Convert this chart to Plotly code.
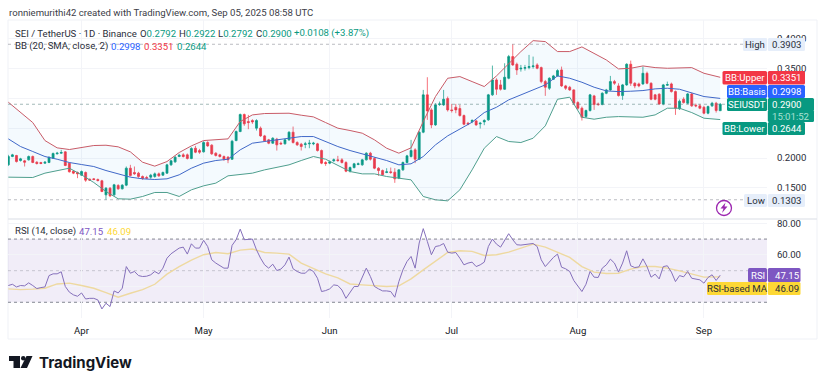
import pandas as pd
import plotly.graph_objects as go

W, H = 825, 385
GREEN, RED, BLUE, PURPLE, YELLOW = "#089981", "#f23645", "#2962ff", "#7e57c2", "#fdd835"
FONT = "Roboto"
FS = 9.6

first_day = "2025-03-14"
last_day = "2025-09-05"
month_ticks = ["2025-04-01", "2025-05-01", "2025-06-01", "2025-07-01", "2025-08-01", "2025-09-01"]
month_labels = ["Apr", "May", "Jun", "Jul", "Aug", "Sep"]
price_ticks = [0.15, 0.20, 0.25, 0.30, 0.35, 0.40]
price_labels = ["0.1500", "0.2000", "", "", "0.3500", "0.4000"]
rsi_ticks = [40, 60, 80]
rsi_labels = ["", "60.00", "80.00"]

opens = [.1887,.2026,.2043,.1959,.1954,.1970,.2026,.1931,.1926,.1915,.1926,.1998,.2071,.2082,.2104,.1915,.1781,.1759,.1714,.1759,
 .1647,.1653,.1642,.1620,.1385,.1497,.1385,.1542,.1486,.1547,.1831,.1759,.1748,.1692,.1675,.1681,.1692,.1736,.1714,.1748,
 .1887,.1937,.2026,.2054,.2054,.1993,.2165,.2126,.2104,.2260,.2216,.2082,.2054,.2026,.2015,.1981,.2293,.2444,.2728,.2611,
 .2628,.2500,.2500,.2371,.2305,.2249,.2316,.2249,.2238,.2305,.2433,.2260,.2232,.2227,.2238,.2238,.2238,.2126,.1926,.1915,
 .1954,.1970,.1970,.1926,.1781,.1842,.1893,.1887,.1970,.2082,.1993,.1831,.1792,.1759,.1770,.1764,.1664,.1803,.1926,.2026,
 .2138,.1981,.2433,.3057,.2806,.2555,.2895,.2889,.2995,.2806,.2850,.2828,.2711,.2583,.2611,.2622,.2572,.2605,.2639,.3057,
 .3307,.3224,.3151,.3335,.3697,.3569,.3491,.3502,.3513,.3530,.3558,.3513,.3279,.3168,.3318,.3374,.3474,.3207,.3185,.3140,
 .2928,.2834,.2694,.2795,.3040,.2906,.2895,.3084,.3140,.3279,.3207,.3045,.3224,.3569,.3251,.3240,.3240,.3418,.3251,.3057,
 .3068,.2906,.3218,.3240,.3112,.2823,.2984,.2917,.3073,.2884,.2873,.2850,.2750,.2873,.2917,.2792]
highs = [.2054,.2071,.2054,.2004,.1970,.2043,.2043,.1948,.1937,.1948,.2026,.2093,.2104,.2138,.2115,.1926,.1798,.1775,.1792,.1775,
 .1658,.1664,.1658,.1636,.1514,.1514,.1569,.1564,.1564,.1859,.1887,.1859,.1770,.1709,.1703,.1736,.1759,.1759,.1775,.1904,
 .1970,.2037,.2071,.2082,.2076,.2182,.2204,.2154,.2282,.2282,.2232,.2098,.2071,.2043,.2032,.2304,.2461,.2745,.2745,.2722,
 .2650,.2650,.2528,.2388,.2321,.2349,.2338,.2277,.2321,.2449,.2527,.2282,.2254,.2271,.2304,.2271,.2254,.2143,.1948,.1959,
 .1993,.2037,.1998,.1948,.1859,.1920,.1926,.1987,.2098,.2104,.2015,.1848,.1809,.1831,.1842,.1831,.1814,.1943,.2054,.2304,
 .2165,.2449,.3140,.3352,.2834,.2917,.2945,.3140,.3029,.2906,.2906,.2889,.2728,.2605,.2650,.2639,.2605,.2650,.3073,.3547,
 .3335,.3307,.3586,.3725,.3903,.3597,.3558,.3558,.3725,.3697,.3586,.3530,.3307,.3352,.3391,.3485,.3530,.3224,.3207,.3151,
 .2951,.2862,.2811,.3073,.3057,.2928,.3101,.3157,.3374,.3307,.3251,.3240,.3586,.3630,.3268,.3262,.3530,.3446,.3268,.3073,
 .3084,.3240,.3279,.3262,.3129,.2979,.3017,.3090,.3090,.2912,.2906,.2873,.2878,.2940,.2940,.2922]
lows = [.1870,.2015,.1926,.1942,.1859,.1959,.1915,.1892,.1898,.1904,.1915,.1987,.2060,.2071,.1865,.1759,.1731,.1664,.1703,.1603,
 .1620,.1631,.1608,.1430,.1303,.1347,.1369,.1469,.1475,.1530,.1692,.1720,.1670,.1636,.1653,.1653,.1670,.1686,.1703,.1736,
 .1870,.1920,.2015,.2009,.1976,.1981,.2082,.2071,.2093,.2188,.2054,.2026,.2009,.1954,.1915,.1970,.2282,.2433,.2539,.2483,
 .2572,.2461,.2355,.2271,.2232,.2238,.2126,.2221,.2227,.2288,.2243,.2204,.2126,.2165,.2165,.2216,.2110,.1898,.1870,.1898,
 .1937,.1937,.1909,.1764,.1759,.1826,.1881,.1870,.1959,.1959,.1814,.1703,.1703,.1748,.1736,.1586,.1647,.1786,.1915,.2009,
 .1915,.1970,.2416,.2639,.2500,.2539,.2873,.2873,.2778,.2761,.2750,.2695,.2550,.2550,.2583,.2539,.2494,.2550,.2622,.3040,
 .3057,.3129,.3140,.3318,.3541,.3391,.3446,.3463,.3485,.3496,.3485,.3251,.3040,.3140,.3307,.3363,.3190,.3140,.3123,.2889,
 .2806,.2628,.2672,.2778,.2806,.2873,.2884,.3068,.3123,.3224,.3029,.2973,.3207,.3207,.3168,.3185,.3224,.3235,.2967,.2967,
 .2889,.2884,.3207,.3096,.2722,.2806,.2912,.2900,.2856,.2851,.2817,.2733,.2733,.2856,.2761,.2792]
closes = [.2026,.2054,.1942,.1987,.1931,.2026,.1926,.1909,.1909,.1931,.2015,.2076,.2082,.2093,.1876,.1770,.1748,.1736,.1775,.1631,
 .1631,.1642,.1625,.1441,.1497,.1369,.1553,.1486,.1547,.1831,.1709,.1736,.1692,.1659,.1664,.1714,.1736,.1703,.1759,.1887,
 .1954,.2015,.2048,.2026,.1993,.2160,.2098,.2098,.2260,.2204,.2071,.2043,.2026,.1981,.1970,.2282,.2444,.2728,.2572,.2594,
 .2605,.2628,.2371,.2288,.2249,.2332,.2221,.2238,.2305,.2433,.2260,.2221,.2193,.2238,.2249,.2249,.2126,.1915,.1909,.1937,
 .1970,.1959,.1926,.1781,.1842,.1904,.1904,.1970,.2082,.1981,.1831,.1792,.1720,.1770,.1759,.1653,.1803,.1926,.2037,.2126,
 .1981,.2433,.3057,.2789,.2555,.2889,.2906,.2984,.2806,.2795,.2806,.2711,.2566,.2566,.2628,.2555,.2583,.2628,.3057,.3307,
 .3151,.3151,.3352,.3697,.3558,.3474,.3502,.3513,.3530,.3541,.3502,.3279,.3185,.3335,.3374,.3463,.3207,.3168,.3140,.2917,
 .2834,.2683,.2795,.3057,.2895,.2895,.3084,.3140,.3279,.3251,.3045,.3224,.3569,.3251,.3207,.3207,.3418,.3251,.2984,.2984,
 .2906,.3224,.3229,.3112,.2834,.2951,.2928,.3073,.2873,.2873,.2834,.2750,.2862,.2917,.2795,.2900]

bb_upper = [.2934,.2761,.2594,.2293,.2171,.2143,.2182,.2210,.2215,.2188,.2104,.1931,.1865,.1942,.2093,.2204,.2293,.2310,.2321,.2611,.2722,.2745,
 .2750,.2750,.2717,.2689,.2594,.2500,.2461,.2416,.2305,.2165,.2082,.2171,.2611,.3029,.3335,.3363,.3279,.3196,.3374,.3586,.3781,.3964,
 .3948,.3781,.3781,.3859,.3753,.3641,.3491,.3502,.3541,.3513,.3502,.3502,.3513,.3418,.3351]
bb_basis = [.2321,.2193,.2110,.2026,.1981,.1926,.1892,.1859,.1792,.1736,.1681,.1653,.1642,.1653,.1720,.1831,.1915,.1959,.1981,.2138,.2249,.2277,
 .2305,.2344,.2360,.2360,.2277,.2193,.2126,.2071,.2026,.1959,.1887,.1904,.2026,.2221,.2371,.2483,.2600,.2761,.2850,.2973,.3057,.3140,
 .3224,.3374,.3335,.3268,.3185,.3123,.3112,.3118,.3129,.3157,.3168,.3151,.3084,.3029,.2998]
bb_lower = [.1681,.1675,.1675,.1748,.1792,.1831,.1720,.1592,.1441,.1319,.1313,.1358,.1425,.1425,.1358,.1469,.1536,.1581,.1703,.1720,.1748,.1803,
 .1842,.1887,.1959,.2026,.1981,.1876,.1775,.1736,.1736,.1692,.1664,.1636,.1358,.1302,.1285,.1469,.1803,.2165,.2360,.2277,.2260,.2332,
 .2539,.2984,.3018,.2683,.2650,.2683,.2694,.2683,.2683,.2722,.2834,.2834,.2761,.2667,.2644]

rsi = [40.6,41.4,39.7,40.6,40.4,42.3,40.6,38.7,39.3,39.7,46.9,48.0,48.0,49.3,40.0,36.4,34.7,33.8,35.9,32.1,32.5,32.5,31.5,25.8,29.4,27.3,37.2,35.9,38.9,52.6,
 48.4,49.5,46.9,46.3,46.5,47.4,49.5,48.0,51.6,57.9,60.7,62.8,64.3,64.9,60.5,67.0,64.3,64.3,69.2,65.3,56.9,54.8,53.3,51.6,51.6,66.0,69.6,76.3,69.6,69.6,70.0,63.2,57.9,53.7,51.6,54.1,
 50.1,51.0,53.7,58.6,51.2,49.5,48.4,48.4,51.0,49.5,45.2,36.8,37.4,38.5,41.0,40.6,37.8,32.5,36.4,40.0,40.0,46.3,51.6,46.3,40.0,38.5,37.2,37.2,36.8,33.2,43.1,50.5,55.8,59.0,51.6,67.5,76.6,
 68.5,60.1,65.3,65.8,67.2,61.7,61.1,61.5,57.9,53.7,54.8,55.4,52.6,53.7,55.4,65.3,70.0,66.8,64.9,68.9,73.4,69.6,66.4,66.2,66.6,66.8,67.2,65.3,56.9,52.6,
 55.8,58.4,60.5,52.2,51.2,49.5,43.8,40.6,36.8,41.4,49.5,45.9,45.7,51.6,53.7,57.3,54.8,49.1,54.8,62.6,53.1,52.0,52.4,57.5,52.6,45.9,47.8,44.8,52.6,53.1,49.1,43.1,46.9,46.1,49.5,45.2,44.8,44.2,42.1,45.7,47.4,43.8,47.15]
rsi_ma = [38.5,38.0,38.3,38.9,41.6,42.1,40.6,38.9,36.1,33.2,35.7,38.0,41.4,47.8,52.6,56.7,60.1,61.5,60.7,63.0,63.7,61.5,
 61.1,60.5,54.8,51.2,48.0,45.5,41.6,41.0,40.6,40.0,40.4,44.8,50.5,55.8,61.5,62.6,62.2,59.6,60.1,61.7,64.3,66.8,
 64.9,61.7,58.4,52.6,49.1,48.2,48.4,51.0,52.6,52.6,51.6,49.9,48.0,45.9,46.09]

days = pd.date_range(first_day, last_day, freq="D")
grid = list(days[::3][:58]) + [days[-1]]


def fx(x):
    return x / W


def fy(y):
    return 1 - y / H


fig = go.Figure()
fig.add_trace(go.Scatter(x=grid, y=bb_upper, mode="lines", line=dict(color="#c95c68", width=1), hoverinfo="skip"))
fig.add_trace(go.Scatter(x=grid, y=bb_lower, mode="lines", line=dict(color="#4f9f8e", width=1), fill="tonexty",
                         fillcolor="rgba(33,150,243,0.05)", hoverinfo="skip"))
fig.add_trace(go.Scatter(x=grid, y=bb_basis, mode="lines", line=dict(color="#4068c8", width=1), hoverinfo="skip"))
fig.add_trace(go.Candlestick(x=days, open=opens, high=highs, low=lows, close=closes,
                             increasing=dict(line=dict(color="rgba(8,153,129,0.7)", width=1), fillcolor=GREEN),
                             decreasing=dict(line=dict(color="rgba(242,54,69,0.7)", width=1), fillcolor=RED),
                             whiskerwidth=0, hoverinfo="skip"))
fig.add_trace(go.Scatter(x=grid, y=rsi_ma, mode="lines", line=dict(color="#eed9a0", width=1.4), xaxis="x2", yaxis="y2", hoverinfo="skip"))
fig.add_trace(go.Scatter(x=days, y=rsi, mode="lines", line=dict(color="#8570bb", width=1), xaxis="x2", yaxis="y2", hoverinfo="skip"))

shapes = []
annotations = []


def txt(x, y, s, color="#2a2e39", size=FS, anchor="left", **kw):
    annotations.append(dict(xref="paper", yref="paper", x=fx(x), y=fy(y), text=s, showarrow=False, xanchor=anchor, yanchor="middle",
                            font=dict(family=kw.get("family", FONT), size=size, color=color), align=anchor, borderpad=0))


def rbox(x0, y0, x1, y1, fill, r=1.5):
    path = (f"M{fx(x0 + r)},{fy(y0)} L{fx(x1 - r)},{fy(y0)} Q{fx(x1)},{fy(y0)} {fx(x1)},{fy(y0 + r)} "
            f"L{fx(x1)},{fy(y1 - r)} Q{fx(x1)},{fy(y1)} {fx(x1 - r)},{fy(y1)} "
            f"L{fx(x0 + r)},{fy(y1)} Q{fx(x0)},{fy(y1)} {fx(x0)},{fy(y1 - r)} "
            f"L{fx(x0)},{fy(y0 + r)} Q{fx(x0)},{fy(y0)} {fx(x0 + r)},{fy(y0)} Z")
    shapes.append(dict(type="path", xref="paper", yref="paper", path=path, fillcolor=fill, line=dict(width=0), layer="above"))


def tag(left, y0, y1, name, value, fill, fg="#ffffff", right=805):
    rbox(left, y0, 767, y1, fill)
    rbox(767.8, y0, right, y1, fill)
    txt((left + 767) / 2, (y0 + y1) / 2, name, fg, FS, "center")
    txt(787, (y0 + y1) / 2, value, fg, FS, "center")


# Panel frame and pane separator
for x0, y0, x1, y1 in [(8, 20, 817, 20), (8, 339, 817, 339), (8, 20, 8, 339), (817, 20, 817, 339)]:
    shapes.append(dict(type="line", xref="paper", yref="paper", x0=fx(x0), y0=fy(y0), x1=fx(x1), y1=fy(y1),
                       line=dict(color="#eff1f6", width=1), layer="below"))
shapes.append(dict(type="line", xref="paper", yref="paper", x0=fx(8), x1=fx(817), y0=fy(219), y1=fy(219),
                   line=dict(color="#e6e8ee", width=1.5), layer="below"))

# Reference lines
for val, col in [(0.3903, "rgba(120,123,134,0.5)"), (0.1303, "rgba(120,123,134,0.5)"), (0.29, "rgba(90,130,125,0.55)")]:
    shapes.append(dict(type="line", xref="x domain", yref="y", x0=0, x1=1, y0=val, y1=val, line=dict(color=col, width=1, dash="dot"), layer="above"))
shapes.append(dict(type="rect", xref="x2 domain", yref="y2", x0=0, x1=1, y0=30, y1=70, fillcolor="rgba(126,87,194,0.11)", line=dict(width=0), layer="below"))
for val, col in [(70, "rgba(120,123,134,0.9)"), (50, "rgba(120,123,134,0.35)"), (30, "rgba(120,123,134,0.9)")]:
    shapes.append(dict(type="line", xref="x2 domain", yref="y2", x0=0, x1=1, y0=val, y1=val, line=dict(color=col, width=1, dash="3px,3px"), layer="below"))

# Right-hand tags
tag(743, 38, 51, "High", "0.3903", "#e6eefa", "#2a2e39")
tag(744, 194, 207, "Low", "0.1303", "#e6eefa", "#2a2e39")
tag(722.5, 71, 84.5, "BB:Upper", "0.3351", RED)
tag(727, 85, 98, "BB:Basis", "0.2998", BLUE)
tag(727, 98, 111, "SEIUSDT", "0.2900", GREEN, right=814)
rbox(767.8, 110, 814, 122, GREEN)
txt(790.5, 116, "15:01:52", "#a8e0d2", FS, "center")
tag(722.5, 122, 135, "BB:Lower", "0.2644", GREEN)
tag(748, 268, 282, "RSI", "47.15", PURPLE, right=800.5)
tag(707, 282, 295, "RSI-based MA", "46.09", "#fdd835", "#2a2e39", right=800.5)

# Lightning badge
shapes.append(dict(type="circle", xref="paper", yref="paper", x0=fx(716.5), x1=fx(731.5), y0=fy(215.5), y1=fy(200.5),
                   line=dict(color="#9c27b0", width=1.3), fillcolor="#ffffff", layer="above"))
bolt = [(725.5, 202.5), (720.5, 208.5), (723.5, 208.5), (722, 213), (727.5, 206.5), (724.5, 206.5)]
shapes.append(dict(type="path", xref="paper", yref="paper",
                   path="M" + " L".join(f"{fx(a)},{fy(b)}" for a, b in bolt) + " Z",
                   fillcolor="#9c27b0", line=dict(width=0), layer="above"))

# Logo
logo_parts = [[(9, 356), (20, 356), (20, 368), (13.5, 368), (13.5, 361), (9, 361)],
              [(26.5, 356), (32.5, 356), (27, 368), (20.5, 368)]]
for part in logo_parts:
    shapes.append(dict(type="path", xref="paper", yref="paper",
                       path="M" + " L".join(f"{fx(a)},{fy(b)}" for a, b in part) + " Z",
                       fillcolor="#131722", line=dict(width=0), layer="above"))
shapes.append(dict(type="circle", xref="paper", yref="paper", x0=fx(21), x1=fx(25.5), y0=fy(360.5), y1=fy(356),
                   fillcolor="#131722", line=dict(width=0), layer="above"))
txt(38, 362, "<b>TradingView</b>", "#131722", 15, family="Inter")

# Text rows
txt(8, 12, "ronniemurithi42 created with TradingView.com, Sep 05, 2025 08:58 UTC", "#3c4048", FS)
txt(14, 33, "SEI / TetherUS · 1D · Binance", "#2a2e39")
for x, lab, val in [(139, "O", "0.2792"), (178, "H", "0.2922"), (217, "L", "0.2792"), (255, "C", "0.2900")]:
    txt(x, 33, f'{lab}<span style="color:{GREEN}">{val}</span>', "#2a2e39")
txt(293, 33, "+0.0108 (+3.87%)", GREEN)
txt(14, 46, "BB (20, SMA, close, 2)", "#2a2e39")
txt(110, 46, "0.2998", BLUE)
txt(143, 46, "0.3351", RED)
txt(176, 46, "0.2644", GREEN)
txt(14, 231, "RSI (14, close)", "#2a2e39")
txt(78, 231, "47.15", PURPLE)
txt(106, 231, "46.09", YELLOW)

x_left, x_right = "2025-03-13 22:00", "2025-09-16 12:00"
fig.update_layout(
    width=W, height=H, autosize=False, margin=dict(l=0, r=0, t=0, b=0, pad=0, autoexpand=False), showlegend=False,
    paper_bgcolor="#ffffff", plot_bgcolor="#ffffff", font=dict(family=FONT, size=FS, color="#2a2e39"),
    shapes=shapes, annotations=annotations,
    xaxis=dict(domain=[fx(8), fx(767)], range=[x_left, x_right], rangeslider=dict(visible=False), type="date",
               tickvals=month_ticks, ticktext=month_labels, showticklabels=False, ticks="", showgrid=True, gridcolor="#f3f4f8", gridwidth=1, zeroline=False, showline=False, anchor="y"),
    yaxis=dict(domain=[fy(218), fy(20)], range=[0.0998, 0.4309], side="right", tickvals=price_ticks, ticktext=price_labels,
               ticks="outside", ticklen=7, tickcolor="rgba(0,0,0,0)", showgrid=True, gridcolor="#f3f4f8", zeroline=False, showline=False, anchor="x",
               tickfont=dict(family=FONT, size=FS, color="#2a2e39")),
    xaxis2=dict(domain=[fx(8), fx(767)], range=[x_left, x_right], type="date", tickvals=month_ticks, ticktext=month_labels,
                ticks="outside", ticklen=3, tickcolor="rgba(0,0,0,0)", showgrid=True, gridcolor="#f3f4f8", zeroline=False, showline=False, anchor="y2",
                tickfont=dict(family=FONT, size=FS, color="#131722")),
    yaxis2=dict(domain=[fy(318), fy(222)], range=[20.06, 80.8], side="right", tickvals=rsi_ticks, ticktext=rsi_labels,
                ticks="outside", ticklen=7, tickcolor="rgba(0,0,0,0)", showgrid=True, gridcolor="#f3f4f8", zeroline=False, showline=False, anchor="x2",
                tickfont=dict(family=FONT, size=FS, color="#2a2e39")),
)
fig.write_html("out.html", config=dict(displayModeBar=False), post_script="document.body.style.margin='0';document.body.style.overflow='hidden';")
